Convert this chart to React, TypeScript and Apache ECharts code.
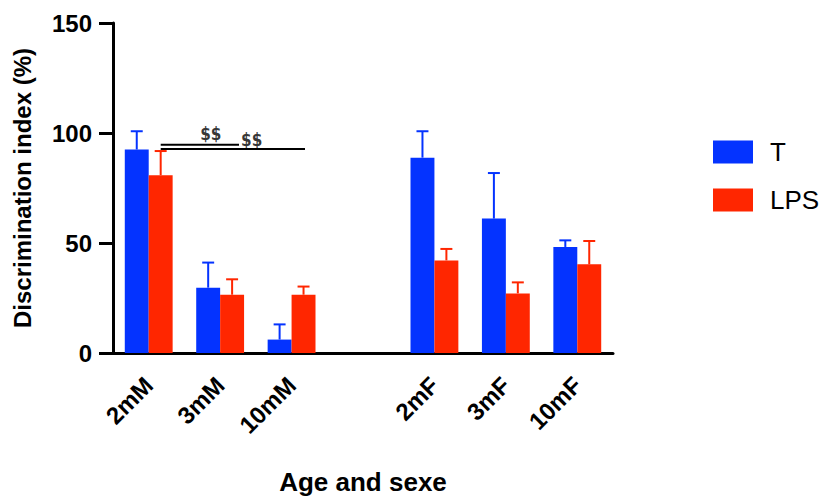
import React, { useEffect, useRef } from "react";
import * as echarts from "echarts";

const categories = ["2mM", "3mM", "10mM", "", "2mF", "3mF", "10mF"];
const tMeans = [92.5, 29.7, 6.1, null, 88.8, 61.1, 48.2];
const tErr = [8.3, 11.4, 6.9, null, 12.0, 20.7, 3.0];
const lpsMeans = [80.8, 26.5, 26.5, null, 42.1, 27.1, 40.3];
const lpsErr = [11.0, 7.0, 3.7, null, 5.2, 5.0, 10.6];

// significance annotations (x = position along the category axis, y = value)
const sigLines = [
  { x0: 0.668, x1: 1.764, y: 94.7 },
  { x0: 0.668, x1: 2.688, y: 92.7 },
];
const sigLabels = [
  { x: 1.369, y: 99.4, text: "$$" },
  { x: 1.942, y: 97.0, text: "$$" },
];

const BLUE = "#0433FF";
const RED = "#FF2600";
const FONT = "Arial, 'Liberation Sans', Helvetica, sans-serif";
const CAT_GAP = 0.33;

function errorSeries(name: string, means: (number | null)[], errs: (number | null)[], color: string, side: number) {
  const data = means
    .map((m, i) => (m == null ? null : [i, m, (m as number) + (errs[i] as number)]))
    .filter((d) => d != null);
  return {
    type: "custom",
    name: name + "_err",
    xAxisIndex: 0,
    yAxisIndex: 0,
    z: 3,
    data,
    renderItem: (params: any, api: any) => {
      const idx = api.value(0);
      const band = api.size([1, 0])[0];
      const barW = (band * (1 - CAT_GAP)) / 2;
      const base = api.coord([idx, api.value(1)]);
      const top = api.coord([idx, api.value(2)]);
      const x = base[0] + (side * barW) / 2;
      const cap = barW * 0.25;
      return {
        type: "group",
        children: [
          {
            type: "line",
            shape: { x1: x, y1: base[1], x2: x, y2: top[1] },
            style: { stroke: color, lineWidth: 2 },
          },
          {
            type: "line",
            shape: { x1: x - cap, y1: top[1], x2: x + cap, y2: top[1] },
            style: { stroke: color, lineWidth: 2 },
          },
        ],
      };
    },
  };
}

export default function App() {
  const ref = useRef<HTMLDivElement>(null);
  useEffect(() => {
    if (!ref.current) return;
    const chart = echarts.init(ref.current, null, { renderer: "svg" });
    const option: any = {
      animation: false,
      backgroundColor: "#ffffff",
      grid: {
        left: 113,
        right: 210,
        top: 23,
        bottom: 146,
        containLabel: false,
        outerBoundsMode: "none",
      },
      legend: {
        data: ["T", "LPS"],
        orient: "vertical",
        left: 713,
        top: 139,
        padding: 0,
        itemWidth: 40,
        itemHeight: 23,
        itemGap: 22,
        icon: "rect",
        textStyle: { fontSize: 26, color: "#000", fontFamily: FONT, padding: [0, 0, 0, 12] },
      },
      xAxis: [
        {
          type: "category",
          data: categories,
          boundaryGap: true,
          name: "Age and sexe",
          nameLocation: "middle",
          nameGap: 116,
          nameTextStyle: { fontSize: 26, fontWeight: "bold", color: "#000", fontFamily: FONT },
          axisLine: { lineStyle: { color: "#000", width: 3 } },
          axisTick: { alignWithLabel: true, length: 14, lineStyle: { color: "#000", width: 3 } },
          axisLabel: {
            rotate: 45,
            interval: 0,
            margin: 28,
            fontSize: 24,
            fontWeight: "bold",
            color: "#000",
            fontFamily: FONT,
          },
        },
        { type: "value", min: 0, max: 7, show: false },
      ],
      yAxis: {
        type: "value",
        min: 0,
        max: 150,
        interval: 50,
        name: "Discrimination index (%)",
        nameLocation: "middle",
        nameGap: 79,
        nameRotate: 90,
        nameTextStyle: { fontSize: 24, fontWeight: "bold", color: "#000", fontFamily: FONT },
        axisLine: { show: true, lineStyle: { color: "#000", width: 3 } },
        axisTick: { show: true, length: 14, lineStyle: { color: "#000", width: 3 } },
        splitLine: { show: false },
        axisLabel: { margin: 21, fontSize: 24, fontWeight: "bold", color: "#000", fontFamily: FONT },
      },
      series: [
        {
          name: "T",
          type: "bar",
          data: tMeans,
          barGap: "0%",
          barCategoryGap: CAT_GAP * 100 + "%",
          itemStyle: { color: BLUE },
          z: 2,
        },
        {
          name: "LPS",
          type: "bar",
          data: lpsMeans,
          barGap: "0%",
          barCategoryGap: CAT_GAP * 100 + "%",
          itemStyle: { color: RED },
          z: 2,
        },
        errorSeries("T", tMeans, tErr, BLUE, -1),
        errorSeries("LPS", lpsMeans, lpsErr, RED, 1),
        ...sigLines.map((l, i) => ({
          type: "line",
          name: "sig" + i,
          xAxisIndex: 1,
          yAxisIndex: 0,
          data: [
            [l.x0, l.y],
            [l.x1, l.y],
          ],
          symbol: "none",
          lineStyle: { color: "#000", width: 2 },
          z: 4,
        })),
        {
          type: "scatter",
          name: "sigLabels",
          xAxisIndex: 1,
          yAxisIndex: 0,
          symbolSize: 0,
          data: sigLabels.map((s) => ({ value: [s.x, s.y], label: { formatter: s.text } })),
          label: {
            show: true,
            position: "inside",
            fontSize: 17,
            fontWeight: "bold",
            color: "#000",
            fontFamily: "'DejaVu Sans Condensed', " + FONT,
          },
          z: 5,
        },
      ],
    };
    chart.setOption(option);
    return () => chart.dispose();
  }, []);
  return <div ref={ref} style={{ width: 823, height: 499, position: "absolute", left: 0, top: 0 }} />;
}
